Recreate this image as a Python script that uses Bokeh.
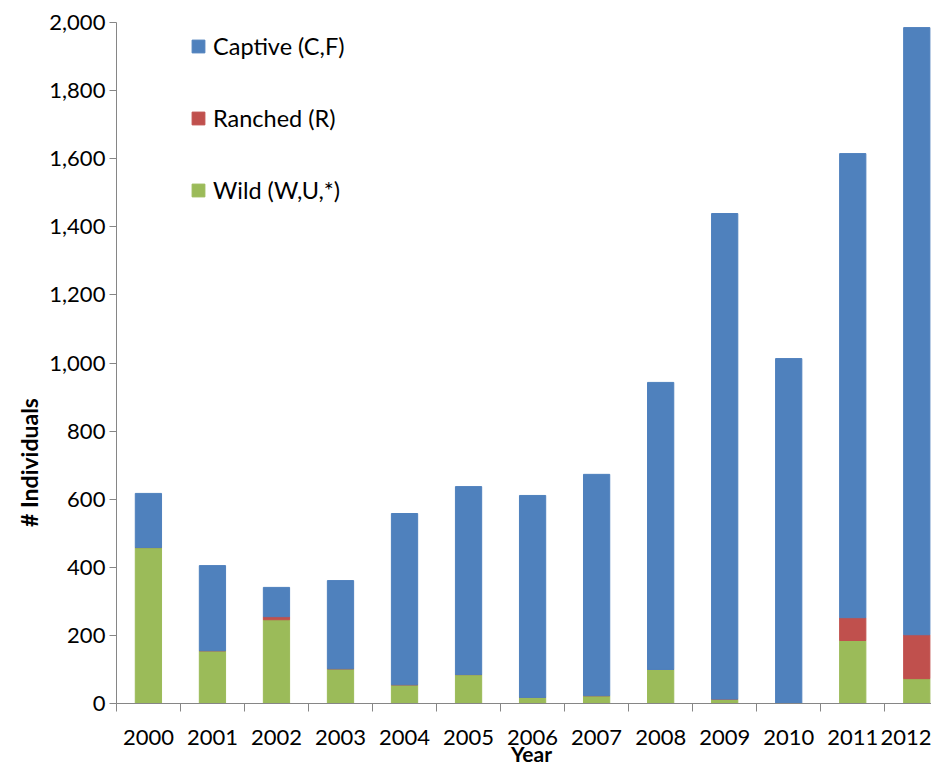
import math
from bokeh.plotting import figure
from bokeh.models import (ColumnDataSource, Range1d, FixedTicker, NumeralTickFormatter,
                          Legend, LegendItem, Label)
from bokeh.embed import file_html
from bokeh.resources import INLINE

years = [2000, 2001, 2002, 2003, 2004, 2005, 2006, 2007, 2008, 2009, 2010, 2011, 2012]
wild = [458, 155, 246, 102, 55, 85, 18, 23, 100, 13, 0, 185, 73]
ranched = [0, 0, 9, 0, 0, 0, 0, 0, 0, 0, 0, 67, 129]
captive = [159, 250, 86, 259, 503, 552, 593, 650, 843, 1426, 1013, 1363, 1783]
y_ticks = [0, 200, 400, 600, 800, 1000, 1200, 1400, 1600, 1800, 2000]

BLUE = "#4F81BD"
RED = "#C0504D"
GREEN = "#9BBB59"
AXIS = "#868686"
FONT = "Lato"

W, H = 931, 766
source = ColumnDataSource(dict(year=years, wild=wild, ranched=ranched, captive=captive))

# the plotting frame covers the whole canvas; the axes are drawn at fixed data locations
p = figure(width=W, height=H,
           x_range=Range1d(1997.69, 2012.23),
           y_range=Range1d(-185, 2064.6),
           output_backend="svg", toolbar_location=None, min_border=0)
p.min_border_left = p.min_border_right = p.min_border_top = p.min_border_bottom = 0
p.outline_line_color = None
p.xgrid.grid_line_color = None
p.ygrid.grid_line_color = None
p.background_fill_color = "white"
p.border_fill_color = "white"

renderers = p.vbar_stack(["wild", "ranched", "captive"], x="year", width=0.41,
                         color=[GREEN, RED, BLUE], source=source)

legend = Legend(items=[
    LegendItem(label="Captive (C,F)", renderers=[renderers[2]]),
    LegendItem(label="Ranched (R)", renderers=[renderers[1]]),
    LegendItem(label="Wild (W,U,*)", renderers=[renderers[0]]),
], location=(190, 562), padding=0, margin=0, spacing=44,
    glyph_width=16, glyph_height=16, label_height=28, label_standoff=7,
    label_text_font=FONT, label_text_font_size="23.5px", label_text_color="black",
    label_text_baseline="middle",
    background_fill_alpha=0, border_line_color=None)
p.add_layout(legend)

# y axis
yax = p.yaxis[0]
yax.fixed_location = years[0] - 0.5
yax.bounds = (y_ticks[0], y_ticks[-1])
yax.ticker = FixedTicker(ticks=y_ticks)
yax.formatter = NumeralTickFormatter(format="0,0")
yax.axis_line_color = AXIS
yax.major_tick_line_color = AXIS
yax.major_tick_in = 0
yax.major_tick_out = 7
yax.minor_tick_line_color = None
yax.major_label_text_font = FONT
yax.major_label_text_font_size = "22px"
yax.major_label_text_color = "black"
yax.major_label_standoff = 4

# x axis
xax = p.xaxis[0]
xax.fixed_location = 0
xax.bounds = (years[0] - 0.5, years[-1] + 0.5)
xax.ticker = FixedTicker(ticks=years, minor_ticks=[y - 0.5 for y in years] + [years[-1] + 0.5])
xax.axis_line_color = AXIS
xax.major_tick_line_color = None
xax.major_tick_in = 0
xax.major_tick_out = 0
xax.minor_tick_line_color = AXIS
xax.minor_tick_in = 0
xax.minor_tick_out = 8
xax.major_label_text_font = FONT
xax.major_label_text_font_size = "22px"
xax.major_label_text_color = "black"
xax.major_label_standoff = 18

p.add_layout(Label(x=28, y=H - 462, x_units="screen", y_units="screen", text="# Individuals",
                   angle=math.pi / 2, text_align="center", text_baseline="middle",
                   text_font=FONT, text_font_style="bold", text_font_size="23px",
                   text_color="black"))
p.add_layout(Label(x=531, y=13, x_units="screen", y_units="screen", text="Year",
                   text_align="center", text_baseline="alphabetic",
                   text_font=FONT, text_font_style="bold", text_font_size="21px",
                   text_color="black"))

open("out.html", "w").write(file_html(p, INLINE))
